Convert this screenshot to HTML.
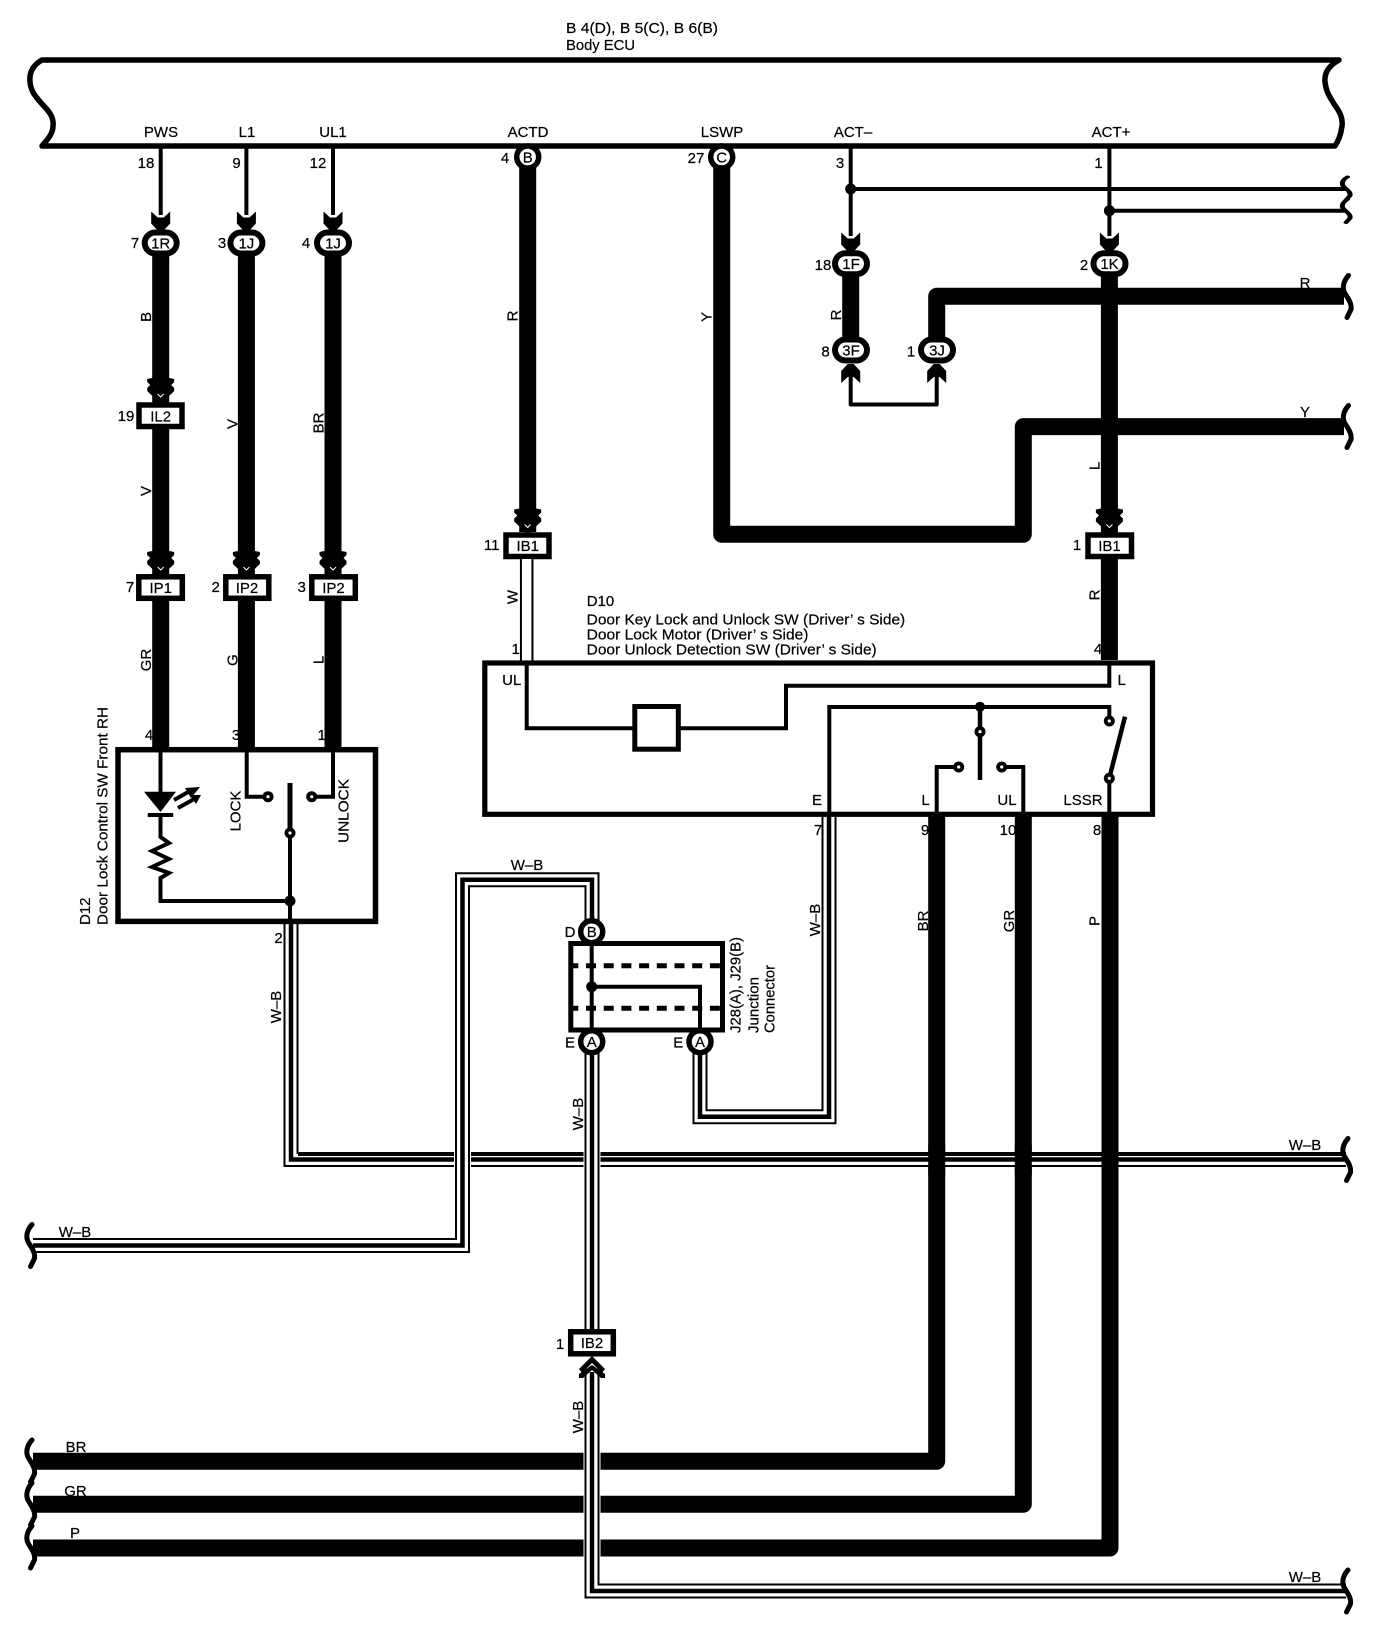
<!DOCTYPE html>
<html><head><meta charset="utf-8"><style>
html,body{margin:0;padding:0;background:#fff}
svg{display:block}
text{font-family:"Liberation Sans",sans-serif;font-size:15px;fill:#000;stroke:#000;stroke-width:.2}
.m{text-anchor:middle}
.s{font-size:15px}
path,polyline,line{fill:none;stroke:#000}
.t{stroke-width:4}
.h{stroke-width:17;stroke-linejoin:round}
.o{stroke-width:15;stroke-linejoin:miter}
.w{stroke:#fff;stroke-width:11;stroke-linejoin:miter}
.i{stroke-width:4.5;stroke-linejoin:miter}
</style></head><body>
<svg width="1392" height="1638" viewBox="0 0 1392 1638" xmlns="http://www.w3.org/2000/svg">
<defs>
<g id="chev"><polygon points="-9.5,0 -3,6 3,6 9.5,0 9.5,12 3,19 -3,19 -9.5,12" fill="#000"/></g>
<g id="dbl"><polygon points="-13.5,1 -8.5,0 8.5,0 13.5,1 13.5,4 10.500,7 13.5,10 13.5,13 1.5,24.500 -1.5,24.500 -13.5,13 -13.5,10 -10.500,7 -13.5,4" fill="#000"/><polyline points="-3,16 0,19 3,16" style="stroke:#fff;stroke-width:1"/></g>
<g id="oval"><rect x="-19" y="-13.500" width="38" height="27" rx="13.500" ry="13.500" fill="#000"/><rect x="-13" y="-7.500" width="26" height="15" rx="7.500" ry="7.500" fill="#fff"/></g>
<circle id="circ" r="11" fill="#fff" stroke="#000" stroke-width="5.5"/>
<g id="dot"><circle r="5.5" fill="#000"/><circle r="1.6" fill="#fff"/></g>
<path id="rb" d="M1.5,-21 C-4,-15 -5,-8 -2,-3 C1,2 5,7 4,13 L0,21" style="stroke-width:5;stroke-linecap:round"/>
</defs>

<!-- ECU band -->
<path d="M42,60 H1339 C1330,65 1324,72 1325,82 C1326,92 1330,97 1334,104 C1340,112 1343,118 1342,126 C1341,134 1339,140 1335,146 H42 C47,140 53,134 53,126 C54,118 50,112 42,104 C36,97 31,92 30,82 C29,72 33,65 42,60 Z" style="stroke-width:5.5;stroke-linejoin:round"/>
<text x="566" y="33" textLength="152" lengthAdjust="spacingAndGlyphs">B 4(D), B 5(C), B 6(B)</text>
<text x="566" y="50" textLength="69" lengthAdjust="spacingAndGlyphs">Body ECU</text>
<g>
<text class="m" x="161" y="137">PWS</text><text class="m" x="247" y="137">L1</text><text class="m" x="333" y="137">UL1</text>
<text class="m" x="528" y="137">ACTD</text><text class="m" x="722" y="137">LSWP</text><text class="m" x="853" y="137">ACT–</text><text class="m" x="1111" y="137">ACT+</text>
<text class="m" x="146" y="168">18</text><text class="m" x="236.5" y="168">9</text><text class="m" x="318" y="168">12</text><text class="m" x="505" y="163">4</text><text class="m" x="696" y="163">27</text><text class="m" x="840" y="168">3</text><text class="m" x="1098.5" y="168">1</text>
</g>

<!-- thin wires to connectors -->
<path class="t" d="M160.7,146 V215 M246.4,146 V215 M333,146 V215 M850.7,146 V236 M1109.4,146 V236 M850.7,189 H1346 M1109.4,210.7 H1346"/>
<circle cx="850.7" cy="189" r="5.5" fill="#000"/><circle cx="1109.4" cy="210.7" r="5.5" fill="#000"/>
<use href="#rb" transform="translate(1346,188.500) scale(1,0.55)"/><use href="#rb" transform="translate(1346,211) scale(1,0.55)"/>

<!-- thick wires -->
<path class="h" d="M160.7,250 V747 M246.4,250 V747 M333,250 V747 M527.7,165 V532 M721.7,165 V534.3 H1023.3 V426.6 H1344 M850.7,270 V345 M936.700,345 V296.300 H1344 M1109.4,270 V660"/>
<use href="#rb" transform="translate(1347,296.500)"/><use href="#rb" transform="translate(1347,426.500)"/>
<text class="m" x="1305" y="288">R</text><text class="m" x="1305" y="417">Y</text>

<!-- bottom thick horizontals -->
<path class="h" d="M33,1461.300 H936.7 V816 M33,1504.300 H1023.3 V816 M33,1548 H1110 V816"/>

<!-- W-B bus -->
<path class="o" d="M291,924 V1159.500 H1346"/><path class="w" d="M291,924 V1159.500 H1346"/><path class="i" d="M291,924 V1159.500 H1346"/>
<rect x="298" y="1152" width="1046" height="4" fill="#000"/>
<path class="h" d="M936.7,1145 V1175 M1023.3,1145 V1175 M1110,1145 V1175"/>
<use href="#rb" transform="translate(1346.500,1159.500)"/>
<text class="m" x="1305" y="1150">W–B</text>

<!-- white halos at crossings -->
<rect x="454" y="1150" width="17" height="19" fill="#fff"/>
<rect x="583.500" y="1150" width="17" height="19" fill="#fff"/>
<rect x="583.500" y="1450" width="17" height="110" fill="#fff"/>

<!-- W-B loop -->
<path class="o" d="M33,1245.500 H462.500 V879.700 H592 V925"/><path class="w" d="M33,1245.500 H462.500 V879.700 H592 V925"/><path class="i" d="M33,1245.500 H462.500 V879.700 H592 V925"/>
<use href="#rb" transform="translate(30.500,1245.500)"/>
<text class="m" x="75" y="1237">W–B</text>
<text class="m" x="527" y="870">W–B</text>

<!-- W-B E loop -->
<path class="o" d="M700,1050 V1116.700 H829 V816"/><path class="w" d="M700,1050 V1116.700 H829 V816"/><path class="i" d="M700,1050 V1116.700 H829 V816"/>

<!-- W-B center -->
<path class="o" d="M592,1050 V1332"/><path class="w" d="M592,1050 V1332"/><path class="i" d="M592,1050 V1332"/>
<path class="o" d="M592,1372 V1591 H1346"/><path class="w" d="M592,1372 V1591 H1346"/><path class="i" d="M592,1372 V1591 H1346"/>
<use href="#rb" transform="translate(1346.500,1591)"/>
<text class="m" x="1305" y="1582">W–B</text>
<use href="#rb" transform="translate(30.500,1461)"/><use href="#rb" transform="translate(30.500,1504)"/><use href="#rb" transform="translate(30.500,1547)"/>
<text class="m" x="76" y="1452">BR</text><text class="m" x="75.500" y="1496">GR</text><text class="m" x="75" y="1538">P</text>

<!-- chevrons and connectors row 1 -->
<use href="#chev" x="160.7" y="211.500"/><use href="#chev" x="246.4" y="211.500"/><use href="#chev" x="333" y="211.500"/>
<use href="#oval" x="160.7" y="243"/><use href="#oval" x="246.4" y="243"/><use href="#oval" x="333" y="243"/>
<text class="m s" x="160.7" y="248.500">1R</text><text class="m s" x="246.4" y="248.500">1J</text><text class="m s" x="333" y="248.500">1J</text>
<text class="m" x="135" y="248">7</text><text class="m" x="222" y="248">3</text><text class="m" x="306" y="248">4</text>

<use href="#chev" x="850.7" y="232.500"/><use href="#chev" x="1109.4" y="232.500"/>
<use href="#oval" x="851" y="263.700"/><use href="#oval" x="1109.5" y="263.700"/>
<text class="m s" x="851" y="269">1F</text><text class="m s" x="1109.500" y="269">1K</text>
<text class="m" x="823" y="270">18</text><text class="m" x="1084" y="270">2</text>
<use href="#oval" x="851" y="350"/><use href="#oval" x="937" y="350"/>
<text class="m s" x="851" y="355.500">3F</text><text class="m s" x="937" y="355.500">3J</text>
<text class="m" x="825.500" y="356.500">8</text><text class="m" x="911" y="356.500">1</text>
<use href="#chev" transform="translate(850.7,383) scale(1,-1)"/><use href="#chev" transform="translate(936.7,383) scale(1,-1)"/>
<path class="t" d="M850.7,372 V404.500 H936.700 V372" style="stroke-linejoin:round"/>

<use href="#circ" x="527.7" y="157"/><use href="#circ" x="721.7" y="157"/>
<text class="m s" x="527.7" y="162.500">B</text><text class="m s" x="721.7" y="162.500">C</text>

<!-- double chevrons -->
<use href="#dbl" x="160.7" y="378"/>
<use href="#dbl" x="160.7" y="551"/><use href="#dbl" x="246.4" y="551"/><use href="#dbl" x="333" y="551"/>
<use href="#dbl" x="527.7" y="508.500"/><use href="#dbl" x="1109.4" y="508.500"/>

<!-- rectangular connectors -->
<g fill="#fff" stroke="#000" stroke-width="5.5">
<rect x="139" y="405" width="43" height="21.500"/>
<rect x="138.800" y="576.800" width="43.500" height="21.500"/>
<rect x="225.800" y="576.800" width="43" height="21.500"/>
<rect x="311.800" y="576.800" width="43.500" height="21.500"/>
<rect x="506" y="535" width="43" height="21.500"/>
<rect x="1088" y="535" width="43.500" height="21.500"/>
<rect x="570.700" y="1331.800" width="42.600" height="22"/>
</g>
<text class="m s" x="160.7" y="421.500">IL2</text><text class="m s" x="160.7" y="593">IP1</text><text class="m s" x="247" y="593">IP2</text><text class="m s" x="333.500" y="593">IP2</text>
<text class="m s" x="527.7" y="551">IB1</text><text class="m s" x="1109.5" y="551">IB1</text><text class="m s" x="592" y="1348">IB2</text>
<text class="m" x="126" y="421">19</text><text class="m" x="130" y="592">7</text><text class="m" x="215.700" y="592">2</text><text class="m" x="301.700" y="592">3</text>
<text class="m" x="491.700" y="550">11</text><text class="m" x="1077" y="550">1</text><text class="m" x="560" y="1349">1</text>

<!-- IB2 up chevrons -->
<polygon points="592,1356 605,1369 602,1373 592,1363 582,1373 579,1369" fill="#000"/>
<polygon points="592,1365 605,1374 605,1378 601,1378 592,1370 583,1378 579,1378 579,1374" fill="#000"/>

<!-- rotated wire labels -->
<g>
<text class="m" transform="translate(151,317) rotate(-90)">B</text>
<text class="m" transform="translate(151,491) rotate(-90)">V</text>
<text class="m" transform="translate(237.500,424) rotate(-90)">V</text>
<text class="m" transform="translate(323.500,423) rotate(-90)">BR</text>
<text class="m" transform="translate(517.500,316) rotate(-90)">R</text>
<text class="m" transform="translate(711.500,317) rotate(-90)">Y</text>
<text class="m" transform="translate(841,315) rotate(-90)">R</text>
<text class="m" transform="translate(1099.500,466) rotate(-90)">L</text>
<text class="m" transform="translate(1099.500,595) rotate(-90)">R</text>
<text class="m" transform="translate(151,660) rotate(-90)">GR</text>
<text class="m" transform="translate(237.500,660) rotate(-90)">G</text>
<text class="m" transform="translate(323.500,660) rotate(-90)">L</text>
<text class="m" transform="translate(517.500,597) rotate(-90)">W</text>
<text class="m" transform="translate(281,1007) rotate(-90)">W–B</text>
<text class="m" transform="translate(820,920) rotate(-90)">W–B</text>
<text class="m" transform="translate(583,1114) rotate(-90)">W–B</text>
<text class="m" transform="translate(583,1417) rotate(-90)">W–B</text>
<text class="m" transform="translate(928,921) rotate(-90)">BR</text>
<text class="m" transform="translate(1014,921) rotate(-90)">GR</text>
<text class="m" transform="translate(1099.500,921) rotate(-90)">P</text>
</g>

<!-- D12 box -->
<rect x="118" y="749.700" width="257.500" height="171.700" fill="#fff" stroke="#000" stroke-width="5.500"/>
<text class="m" x="149" y="740">4</text><text class="m" x="236" y="740">3</text><text class="m" x="321.700" y="740">1</text>
<text transform="translate(107.500,925) rotate(-90)" textLength="218" lengthAdjust="spacingAndGlyphs">Door Lock Control SW Front RH</text>
<text transform="translate(90,925) rotate(-90)">D12</text>
<text class="m" transform="translate(240.700,811) rotate(-90)">LOCK</text>
<text class="m" transform="translate(348.300,811) rotate(-90)" textLength="64" lengthAdjust="spacingAndGlyphs">UNLOCK</text>
<path class="t" d="M160.500,750 V793 M160.500,813 V837 L169,843 L152,851 L169,859 L152,867 L169,873 L160.500,878 V901 H290 M290,833 V921 M246.700,750 V796.700 H268 M333,750 V796.700 H311.700"/>
<polygon points="144,791.700 176,791.700 160.500,812" fill="#000"/>
<rect x="147.700" y="813" width="25.500" height="4" fill="#000"/>
<path style="stroke-width:4" d="M174,800 L190,791 M178,808 L196,798"/>
<polygon points="200,787 185,788 191,798" fill="#000"/><polygon points="201,795 190,795 196,804" fill="#000"/>
<line x1="290" y1="783" x2="290" y2="833" style="stroke-width:5"/>
<use href="#dot" x="268" y="796.700"/><use href="#dot" x="311.700" y="796.700"/><use href="#dot" x="290" y="833"/>
<circle cx="290" cy="901" r="5.500" fill="#000"/>
<text class="m" x="278.500" y="943">2</text>

<!-- D10 box -->
<text x="586.700" y="606">D10</text>
<text x="586.700" y="624.300" textLength="318.500" lengthAdjust="spacingAndGlyphs">Door Key Lock and Unlock SW (Driver’ s Side)</text>
<text x="586.700" y="639.300" textLength="221.700" lengthAdjust="spacingAndGlyphs">Door Lock Motor (Driver’ s Side)</text>
<text x="586.700" y="654.300" textLength="290" lengthAdjust="spacingAndGlyphs">Door Unlock Detection SW (Driver’ s Side)</text>
<path d="M526.700,559 V661" style="stroke-width:13.500"/><path d="M526.700,559 V661" style="stroke:#fff;stroke-width:9.500"/>
<text class="m" x="515.700" y="654">1</text><text class="m" x="1098" y="654">4</text>
<rect x="484.800" y="663" width="667.700" height="151.300" fill="#fff" stroke="#000" stroke-width="5.200"/>
<path class="t" d="M526.700,665 V728.300 H786 V685.700 H1109.300 V665"/>
<rect x="634.800" y="706.500" width="43.500" height="42.700" fill="#fff" stroke="#000" stroke-width="5"/>
<path class="t" d="M829.300,812 V707 H1109.300 V721 M936.700,812 V767 H958.700 M1001.700,767 H1023.300 V812 M1109.300,778 V812"/>
<path d="M980,707 V780" style="stroke-width:4.500"/>
<path d="M1109.300,778 L1125,716.700" style="stroke-width:4.500"/>
<circle cx="980" cy="706.700" r="5" fill="#000"/>
<use href="#dot" x="980" y="731.700"/><use href="#dot" x="1109.300" y="721"/><use href="#dot" x="958.700" y="767"/><use href="#dot" x="1001.700" y="767"/><use href="#dot" x="1109.300" y="778.300"/>
<text class="m" x="511.700" y="685">UL</text><text class="m" x="1121.700" y="685">L</text>
<text class="m" x="817" y="805">E</text><text class="m" x="925.500" y="805">L</text><text class="m" x="1007" y="805">UL</text><text class="m" x="1083" y="805">LSSR</text>
<text class="m" x="818" y="835">7</text><text class="m" x="925" y="835">9</text><text class="m" x="1008" y="835">10</text><text class="m" x="1097" y="835">8</text>

<!-- Junction connector -->
<rect x="570.800" y="943.500" width="151.700" height="86.500" fill="#fff" stroke="#000" stroke-width="5"/>
<path d="M572,965.700 H722 M572,1008.300 H722" style="stroke-width:5;stroke-dasharray:10 7.700;stroke-dashoffset:-14"/>
<path class="t" d="M591.700,932 V1032 M591.700,986.700 H700 V1032"/>
<circle cx="591.700" cy="986.700" r="5.500" fill="#000"/>
<use href="#circ" x="591.700" y="931.700"/><use href="#circ" x="591.700" y="1041.700"/><use href="#circ" x="700" y="1041.700"/>
<text class="m s" x="591.700" y="937.200">B</text><text class="m s" x="591.700" y="1047.200">A</text><text class="m s" x="700" y="1047.200">A</text>
<text class="m" x="570" y="937">D</text><text class="m" x="570" y="1047.700">E</text><text class="m" x="678.300" y="1047.700">E</text>
<text transform="translate(740.500,1033) rotate(-90)" textLength="96" lengthAdjust="spacingAndGlyphs">J28(A), J29(B)</text>
<text transform="translate(758.500,1033) rotate(-90)" textLength="56" lengthAdjust="spacingAndGlyphs">Junction</text>
<text transform="translate(774.500,1033) rotate(-90)" textLength="68" lengthAdjust="spacingAndGlyphs">Connector</text>
</svg>
</body></html>
